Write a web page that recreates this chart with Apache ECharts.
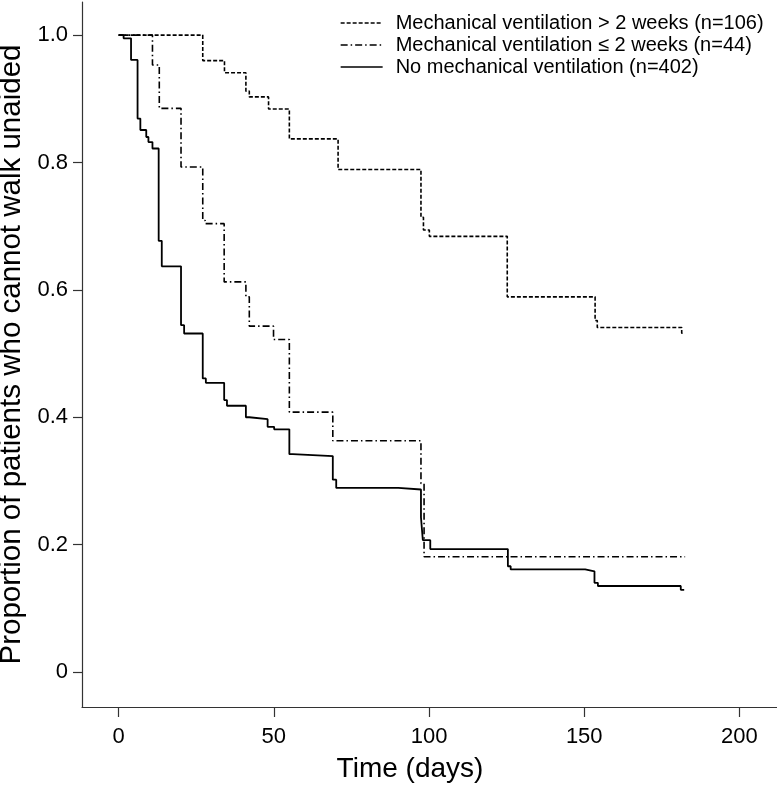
<!DOCTYPE html>
<html>
<head>
<meta charset="utf-8">
<script src="https://cdn.jsdelivr.net/npm/echarts@6/dist/echarts.min.js"></script>
<style>html,body{margin:0;padding:0;background:#fff}#c{width:777px;height:787px}</style>
</head>
<body>
<div id="c"></div>
<script>
const seriesNames = [
  'Mechanical ventilation > 2 weeks (n=106)',
  'Mechanical ventilation \u2264 2 weeks (n=44)',
  'No mechanical ventilation (n=402)'
];
const longMvTime  = [0, 27.1, 34.1, 41.0, 42.1, 48.3, 55.0, 70.7, 97.4, 98.2, 100.1, 125.2, 153.5, 154.2, 181.4, 182.2];
const longMvSurv  = [1, 0.960, 0.941, 0.912, 0.903, 0.884, 0.837, 0.789, 0.714, 0.694, 0.684, 0.589, 0.552, 0.541, 0.532, 0.532];
const shortMvTime = [0, 10.9, 13.1, 20.1, 27.1, 27.9, 34.0, 41.0, 42.1, 49.9, 55.0, 69.0, 97.4, 98.4, 182.5];
const shortMvSurv = [1, 0.953, 0.885, 0.793, 0.709, 0.704, 0.6125, 0.589, 0.543, 0.522, 0.408, 0.363, 0.296, 0.181, 0.181];
const noMvTime    = [0, 1.6, 4.0, 6.1, 7.0, 8.9, 9.6, 10.9, 12.9, 13.9, 20.1, 21.1, 27.1, 28.1, 34.0, 34.9, 41.0, 42.1, 48.0, 50.1, 55.0, 56.1, 69.0, 70.1, 90.1, 97.4, 98.0, 100.4, 125.4, 126.3, 150.3, 153.3, 154.4, 181.1, 182.2];
const noMvSurv    = [1, 0.995, 0.961, 0.869, 0.851, 0.840, 0.832, 0.822, 0.677, 0.637, 0.5445, 0.5315, 0.461, 0.454, 0.427, 0.418, 0.400, 0.397, 0.385, 0.381, 0.342, 0.339, 0.302, 0.289, 0.2865, 0.243, 0.207, 0.193, 0.166, 0.161, 0.158, 0.140, 0.135, 0.129, 0.129];
const xTicks = [0, 50, 100, 150, 200];
const yTicks = [0, 0.2, 0.4, 0.6, 0.8, 1.0];

const pairs = (t, v) => t.map((x, i) => [x, v[i]]);
const FONT = 'Liberation Sans, Arial, sans-serif';
const chart = echarts.init(document.getElementById('c'), null, {renderer: 'canvas'});
const axisLineStyle = {color: '#333', width: 1.2};

chart.setOption({
  animation: false,
  backgroundColor: '#fff',
  grid: {left: 82, top: 2, right: 0, bottom: 80, containLabel: false, outerBoundsMode: 'none'},
  legend: {
    orient: 'vertical', left: 340, top: 13, padding: 0,
    itemWidth: 42, itemHeight: 14, itemGap: 2,
    itemStyle: {opacity: 0},
    lineStyle: {width: 1.3},
    textStyle: {fontFamily: FONT, fontSize: 20, color: '#000', padding: [0, 0, 0, 8]},
    data: seriesNames
  },
  xAxis: {
    type: 'value', min: -11.8, max: 212.1,
    name: 'Time (days)', nameLocation: 'middle', nameGap: 48,
    nameTextStyle: {fontFamily: FONT, fontSize: 28, color: '#000', padding: [0, 39, 0, 0]},
    axisLine: {show: true, onZero: false, lineStyle: axisLineStyle},
    axisTick: {show: true, length: 10, customValues: xTicks, lineStyle: axisLineStyle},
    axisLabel: {customValues: xTicks, margin: 19, fontFamily: FONT, fontSize: 22, color: '#000'},
    splitLine: {show: false}
  },
  yAxis: {
    type: 'value', min: -0.055, max: 1.052,
    name: 'Proportion of patients who cannot walk unaided', nameLocation: 'middle', nameGap: 53,
    nameTextStyle: {fontFamily: FONT, fontSize: 29.5, color: '#000'},
    axisLine: {show: true, onZero: false, lineStyle: axisLineStyle},
    axisTick: {show: true, length: 9, customValues: yTicks, lineStyle: axisLineStyle},
    axisLabel: {customValues: yTicks, margin: 14, fontFamily: FONT, fontSize: 22, color: '#000',
      formatter: v => (Math.abs(v) < 1e-9 ? '0' : v.toFixed(1))},
    splitLine: {show: false}
  },
  series: [
    {name: seriesNames[0], type: 'line', step: 'end', symbol: 'none', silent: true,
     lineStyle: {color: '#000', width: 1.6, type: [4, 2]}, data: pairs(longMvTime, longMvSurv)},
    {name: seriesNames[1], type: 'line', step: 'end', symbol: 'none', silent: true,
     lineStyle: {color: '#000', width: 1.6, type: [7, 3, 1.5, 3]}, data: pairs(shortMvTime, shortMvSurv)},
    {name: seriesNames[2], type: 'line', step: 'end', symbol: 'none', silent: true,
     lineStyle: {color: '#000', width: 1.8, type: 'solid'}, data: pairs(noMvTime, noMvSurv)}
  ]
});
</script>
</body>
</html>
